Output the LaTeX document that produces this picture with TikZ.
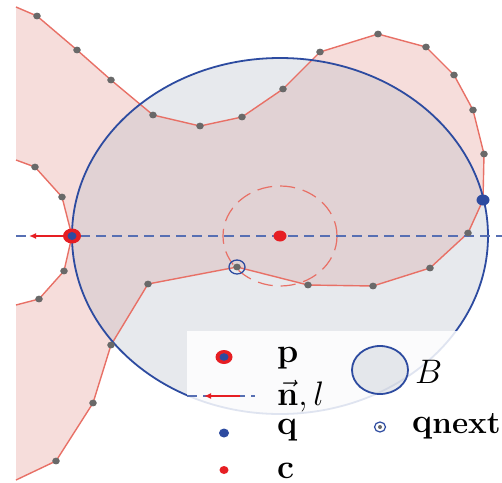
\documentclass[tikz,border=0pt]{standalone}
\usetikzlibrary{arrows.meta}
\definecolor{ptblue}{RGB}{45,75,160}
\definecolor{ptred}{RGB}{230,30,35}
\definecolor{edgered}{RGB}{232,112,102}
\definecolor{polyfill}{RGB}{238,188,184}
\definecolor{ballfill}{RGB}{178,185,198}
\definecolor{vtxgray}{RGB}{105,105,105}
\tikzset{
  polyedge/.style={draw=edgered, line width=1.4pt},
  ballstyle/.style={draw=ptblue, line width=1.8pt, fill=ballfill, fill opacity=0.3},
  axisline/.style={draw=ptblue!80, line width=1.5pt, dash pattern=on 10pt off 6pt},
  searchring/.style={draw=edgered, line width=1.2pt, dash pattern=on 15pt off 8pt},
  normalarrow/.style={draw=ptred, line width=2pt, -{Latex[length=7pt,width=6pt]}},
  lbl/.style={anchor=base west, inner sep=0pt, font=\Huge},
}
\newcommand\lgnd{\scalebox{1.367}}
\begin{document}
\begin{tikzpicture}[x=1pt,y=-1pt]
  \clip (0,0) rectangle (502,482);
  \fill[white] (0,0) rectangle (502,482);
  % outer chain of the free space boundary
  \foreach \x/\y [count=\i] in {16/7,37/16,77/50,111/80,153/115,200/126,242/117,
      283/89,320/52,378/34,426/47,454/75,473/110,484/154,483/200,468/233,
      430/268,373/286,308/285,237/267,148/284,111/345,93/403,56/461,16/480}
    \coordinate (a\i) at (\x,\y);
  % inner chain (notch on the left)
  \foreach \x/\y [count=\i] in {16/305,39/299,64/271,72/236,62/197,35/167,16/160}
    \coordinate (b\i) at (\x,\y);
  \coordinate (p) at (b4);
  \coordinate (q) at (a15);
  \coordinate (qnext) at (a20);
  \coordinate (c) at (280,236);
  \coordinate (lineL) at (16,236);
  \coordinate (lineR) at (502,236);
  \coordinate (tip) at (29,236);

  \fill[polyfill, fill opacity=0.5] (a1) \foreach \i in {2,...,25}{-- (a\i)}
       \foreach \i in {1,...,7}{-- (b\i)} -- cycle;
  \fill[ballstyle, draw=none] (c) ellipse [x radius=208pt, y radius=178pt];
  \draw[polyedge] (a1) \foreach \i in {2,...,25}{-- (a\i)};
  \draw[polyedge] (b1) \foreach \i in {2,...,7}{-- (b\i)};
  \draw[ballstyle, fill=none] (c) ellipse [x radius=208pt, y radius=178pt];
  \draw[searchring] (c) ellipse [x radius=57pt, y radius=50pt];
  \draw[axisline] (lineL) -- (lineR);
  \draw[normalarrow] (p) -- (tip);

  % vertices
  \foreach \i in {2,...,14,16,17,18,19,20,21,22,23,24}
    \fill[vtxgray] (a\i) ellipse [x radius=3.8pt, y radius=3.4pt];
  \foreach \i in {2,3,5,6}
    \fill[vtxgray] (b\i) ellipse [x radius=3.8pt, y radius=3.4pt];

  \fill[ptred] (p) ellipse [x radius=9pt, y radius=7.5pt];
  \fill[ptblue] (p) ellipse [x radius=4.5pt, y radius=4pt];
  \fill[ptblue] (q) ellipse [x radius=6.5pt, y radius=5.5pt];
  \fill[ptred] (c) ellipse [x radius=6.5pt, y radius=5.5pt];
  \draw[ptblue, line width=1.3pt] (qnext) ellipse [x radius=8pt, y radius=7pt];

  % legend
  \fill[white, fill opacity=0.85] (187,331) rectangle (502,482);
  \fill[ptred] (224,357) ellipse [x radius=8.5pt, y radius=7pt];
  \fill[ptblue] (224,357) ellipse [x radius=4.5pt, y radius=3.8pt];
  \node[lbl] (lp) at (277,362) {\lgnd{$\mathbf{p}$}};
  \coordinate (legL) at (187,396);
  \coordinate (legR) at (255,396);
  \coordinate (legA) at (240,396);
  \coordinate (legT) at (204,396);
  \draw[axisline] (legL) -- (legR);
  \draw[normalarrow, line width=1.5pt] (legA) -- (legT);
  \node[lbl] (ln) at (277,405) {\lgnd{$\vec{\mathbf{n}}, l$}};
  \fill[ptblue] (224,433) ellipse [x radius=5pt, y radius=4.5pt];
  \node[lbl] (lq) at (277,434) {\lgnd{$\mathbf{q}$}};
  \fill[ptred] (224,470) ellipse [x radius=4.5pt, y radius=4pt];
  \node[lbl] (lc) at (277,478) {\lgnd{$\mathbf{c}$}};
  \draw[ballstyle] (380,370) ellipse [x radius=28pt, y radius=24pt];
  \node[lbl] (lB) at (415,383) {\lgnd{$B$}};
  \draw[ptblue, line width=1.2pt] (380,427) ellipse [x radius=5.5pt, y radius=5pt];
  \fill[vtxgray] (380,427) circle [radius=2pt];
  \node[lbl] (lqn) at (412,432) {\lgnd{$\mathbf{q}$\raisebox{-1.2pt}{\fontsize{23}{26}\selectfont\bfseries next}}};
\end{tikzpicture}
\end{document}
